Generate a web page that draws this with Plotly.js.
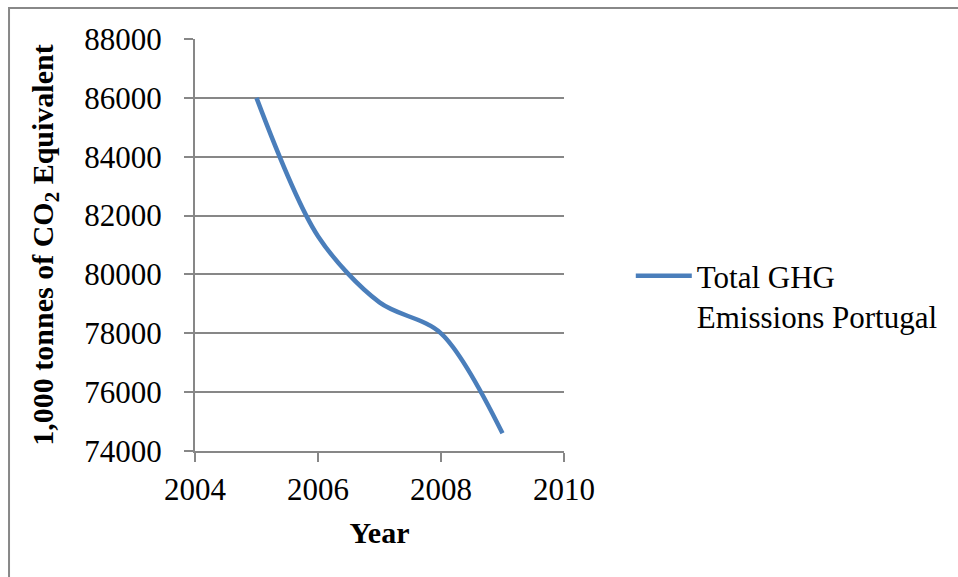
<!DOCTYPE html>
<html>
<head>
<meta charset="utf-8">
<script src="https://cdn.plot.ly/plotly-3.0.1.min.js"></script>
<style>html,body{margin:0;padding:0;background:#fff;}#chart{width:958px;height:577px;}</style>
</head>
<body>
<div id="chart"></div>
<script>
const years = [2005, 2006, 2007, 2008, 2009];
const emissions = [86000, 81300, 79050, 78000, 74600];
const seriesName = 'Total GHG<br>Emissions Portugal';
const xTicks = [2004, 2006, 2008, 2010];
const yTicks = [74000, 76000, 78000, 80000, 82000, 84000, 86000, 88000];

const font = '"Liberation Serif", "Times New Roman", serif';
const trace = {
  x: years, y: emissions, type: 'scatter', mode: 'lines', name: seriesName,
  line: {color: '#4a7ebb', width: 4.5, shape: 'spline', smoothing: 0.9},
  showlegend: true
};
const layout = {
  width: 958, height: 577,
  margin: {l: 195, r: 394, t: 39, b: 126},
  paper_bgcolor: '#fff', plot_bgcolor: '#fff',
  font: {family: font, size: 31, color: '#000'},
  showlegend: true,
  legend: {x: 1.181, y: 0.49, xanchor: 'left', yanchor: 'top', valign: 'top',
    itemwidth: 56, tracegroupgap: 0,
    font: {family: font, size: 31, color: '#000'}, bgcolor: 'rgba(0,0,0,0)'},
  xaxis: {
    range: [2004, 2010], tickvals: xTicks, ticktext: xTicks.map(String),
    showgrid: false, zeroline: false, showline: true, linecolor: '#878787', linewidth: 2,
    ticks: 'outside', ticklen: 9, tickcolor: '#878787', tickwidth: 2,
    tickfont: {family: font, size: 31}, ticklabelstandoff: 1,
    title: {text: '<b>Year</b>', font: {family: font, size: 30}, standoff: 16}
  },
  yaxis: {
    range: [74000, 88000], tickvals: yTicks, ticktext: yTicks.map(String),
    showgrid: true, gridcolor: '#878787', gridwidth: 2, zeroline: false,
    showline: true, linecolor: '#878787', linewidth: 2,
    ticks: 'outside', ticklen: 9, tickcolor: '#878787', tickwidth: 2,
    tickfont: {family: font, size: 31}, ticklabelstandoff: 16,
    title: {text: '<b>1,000 tonnes of CO<sub>2</sub> Equivalent</b>', font: {family: font, size: 30}, standoff: 22}
  },
  shapes: [{type: 'rect', xref: 'paper', yref: 'paper', x0: -0.504, x1: 2.5, y0: -1, y1: 1.075,
    line: {color: '#888888', width: 2}, fillcolor: 'rgba(0,0,0,0)', layer: 'below'}]
};
Plotly.newPlot('chart', [trace], layout, {displayModeBar: false, staticPlot: true});
</script>
</body>
</html>
